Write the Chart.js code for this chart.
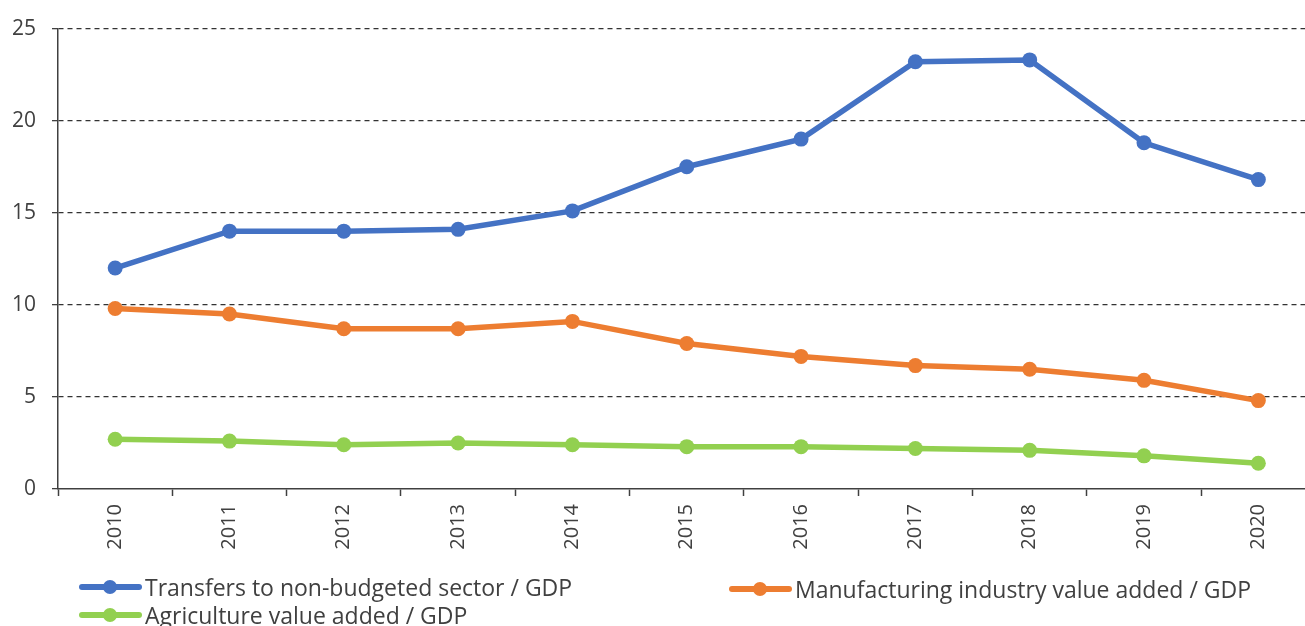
<!DOCTYPE html>
<html>
<head>
<meta charset="utf-8">
<script src="https://cdn.jsdelivr.net/npm/chart.js@4"></script>
<style>
  html, body { margin: 0; padding: 0; background: #fff; }
  #wrap { position: relative; width: 1305px; height: 626px; overflow: hidden; }
  #chart { position: absolute; left: 0; top: 0; }
  .legendItem { position: absolute; height: 24px; display: flex; align-items: center;
    font-family: "Open Sans", sans-serif; font-size: 23px; color: #404040; white-space: nowrap; }
  .legendItem svg { margin-right: 3px; }
</style>
</head>
<body>
<div id="wrap">
  <canvas id="chart" width="1323" height="626"></canvas>
  <div id="legend"></div>
</div>
<script>
const years = ["2010", "2011", "2012", "2013", "2014", "2015", "2016", "2017", "2018", "2019", "2020"];
const transfers = [12.0, 14.0, 14.0, 14.1, 15.1, 17.5, 19.0, 23.2, 23.3, 18.8, 16.8];
const manufacturing = [9.8, 9.5, 8.7, 8.7, 9.1, 7.9, 7.2, 6.7, 6.5, 5.9, 4.8];
const agriculture = [2.7, 2.6, 2.4, 2.5, 2.4, 2.3, 2.3, 2.2, 2.1, 1.8, 1.4];
const yTicks = [0, 5, 10, 15, 20, 25];

const seriesNames = ["Transfers to non-budgeted sector / GDP", "Manufacturing industry value added / GDP", "Agriculture value added / GDP"];
const seriesColors = ["#4472C4", "#ED7D31", "#92D050"];

// legend positions (left, top) picked to match the reference layout
const legendSpots = [[78, 575], [728, 577], [78, 603]];

const axisColor = "#404040";
const tickFont = { family: "Open Sans", size: 20 };

function lineSet(label, data, color) {
    return {
        label: label,
        data: data,
        borderColor: color,
        backgroundColor: color,
        borderWidth: 5.5,
        pointRadius: 7.5,
        pointHoverRadius: 7.5,
        pointBorderWidth: 0,
        tension: 0,
        fill: false
    };
}

new Chart(document.getElementById("chart"), {
    type: "line",
    data: {
        labels: years,
        datasets: [
            lineSet(seriesNames[0], transfers, seriesColors[0]),
            lineSet(seriesNames[1], manufacturing, seriesColors[1]),
            lineSet(seriesNames[2], agriculture, seriesColors[2])
        ]
    },
    options: {
        responsive: false,
        animation: false,
        layout: { padding: { top: 28, left: 0, right: 0, bottom: 0 } },
        plugins: { legend: { display: false }, tooltip: { enabled: false } },
        scales: {
            x: {
                type: "category",
                offset: true,
                grid: {
                    offset: true,
                    drawOnChartArea: false,
                    drawTicks: true,
                    tickLength: 7,
                    tickColor: axisColor,
                    tickWidth: 1.5
                },
                border: { display: true, color: axisColor, width: 1.5 },
                ticks: {
                    color: axisColor,
                    font: tickFont,
                    minRotation: 90,
                    maxRotation: 90,
                    padding: 8,
                    autoSkip: false
                },
                afterFit: function (scale) { scale.height = 626 - 489; }
            },
            y: {
                min: 0,
                max: 25,
                afterBuildTicks: function (scale) {
                    scale.ticks = yTicks.map(v => ({ value: v }));
                },
                grid: {
                    color: ctx => (ctx.tick && ctx.tick.value === 0) ? "rgba(0,0,0,0)" : "#333333",
                    lineWidth: 1.3,
                    tickLength: 6,
                    tickColor: axisColor,
                    tickWidth: 1.3
                },
                border: { display: true, color: axisColor, width: 1.5, dash: [5, 4] },
                ticks: {
                    color: axisColor,
                    font: { family: "Open Sans", size: 21 },
                    padding: 16
                },
                afterFit: function (scale) { scale.width = 58; }
            }
        }
    }
});

// html legend
const legendBox = document.getElementById("legend");
seriesNames.forEach(function (name, i) {
    const item = document.createElement("div");
    item.className = "legendItem";
    item.style.left = legendSpots[i][0] + "px";
    item.style.top = legendSpots[i][1] + "px";
    const c = seriesColors[i];
    item.innerHTML =
        '<svg width="64" height="20"><line x1="4" y1="10" x2="61" y2="10" stroke="' + c +
        '" stroke-width="6" stroke-linecap="round"/><circle cx="32" cy="10" r="7" fill="' + c + '"/></svg>' +
        '<span>' + name + '</span>';
    legendBox.appendChild(item);
});
</script>
</body>
</html>
